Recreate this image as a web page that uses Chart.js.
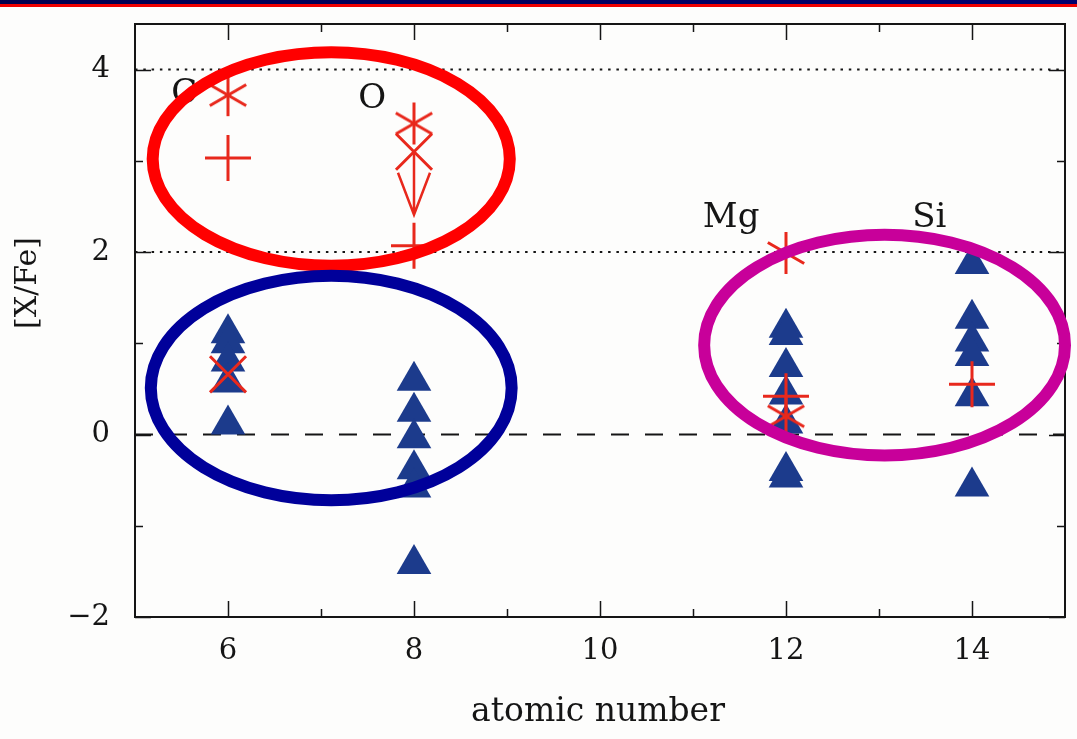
<!DOCTYPE html>
<html>
<head>
<meta charset="utf-8">
<title>[X/Fe] vs atomic number</title>
<script src="https://cdn.jsdelivr.net/npm/chart.js@4.4.1/dist/chart.umd.min.js"></script>
<style>
  html, body { margin: 0; padding: 0; background: #fdfdfc; }
  canvas { display: block; }
</style>
</head>
<body>
<canvas id="abund" width="1077" height="739"></canvas>
<script>
// abundance ratios per element (blue triangles = stars, red = other measurements)
const triC  = [1.11, 1.00, 0.80, 0.57, 0.11]
const triO  = [0.59, 0.25, -0.04, -0.38, -0.58, -1.42]
const triMg = [1.17, 1.09, 0.74, 0.44, 0.12, -0.40, -0.47]
const triSi = [1.87, 1.27, 1.02, 0.86, 0.42, -0.57]
const triZ  = [6, 8, 12, 14]

const plusZ    = [6, 8, 12, 14]
const plusVals = [3.03, 2.07, 0.42, 0.55]
const starZ    = [6, 8, 12, 12]
const starVals = [3.72, 3.41, 1.99, 0.20]
const xZ       = [6, 8]
const xVals    = [0.66, 3.10]
const xUpperLimit = [false, true]

const elementNames = ['C', 'O', 'Mg', 'Si']
const nameX = [5.53, 7.55, 11.41, 13.54]
const nameY = [3.63, 3.58, 2.27, 2.27]

const refLevels = [4, 2, 0]
const xTicks = [6, 8, 10, 12, 14]
const xMinor = [7, 9, 11, 13]
const yTicks = [-2, 0, 2, 4]
const yMinor = [-1, 1, 3]

// highlight rings, in data units
const ringCx = [7.11, 7.11, 13.06]
const ringCy = [3.02, 0.51, 0.98]
const ringRx = [1.92, 1.94, 1.94]
const ringRy = [1.17, 1.23, 1.21]
const ringColors = ['#ff0000', '#00009a', '#c8009a']

const RED = '#e8281c'
const NAVY = '#1c3b8c'
const INK = '#151515'
const SERIF = '"DejaVu Serif", serif'

function pts(z, vals) {
  return vals.map(v => ({ x: z, y: v }))
}
function pairPts(zs, vals) {
  return vals.map((v, i) => ({ x: zs[i], y: v }))
}

// six-armed asterisk used as a point style
function asterisk(arm, width, color) {
  const size = 48
  const c = document.createElement('canvas')
  c.width = c.height = size
  const g = c.getContext('2d')
  g.strokeStyle = color
  g.lineWidth = width
  const m = size / 2
  for (const deg of [90, 30, -30]) {
    const a = deg * Math.PI / 180
    const dx = Math.cos(a) * arm, dy = Math.sin(a) * arm
    g.beginPath()
    g.moveTo(m - dx, m - dy)
    g.lineTo(m + dx, m + dy)
    g.stroke()
  }
  return c
}

const refLines = refLevels.map(v => ({
  data: [{ x: 5, y: v }, { x: 15, y: v }],
  showLine: true,
  pointRadius: 0,
  borderColor: INK,
  borderWidth: 2,
  borderDash: v === 0 ? [18, 16] : [2.5, 5.8],
  order: 10
}))

const triangles = [triC, triO, triMg, triSi].map((vals, i) => ({
  data: pts(triZ[i], vals),
  pointStyle: 'triangle',
  pointRadius: 20,
  backgroundColor: NAVY,
  borderColor: NAVY,
  borderWidth: 0,
  order: 5
}))

const redMarks = [
  {
    data: pairPts(plusZ, plusVals),
    pointStyle: 'cross',
    pointRadius: 23,
    borderColor: RED,
    borderWidth: 3,
    order: 1
  },
  {
    data: pairPts(starZ, starVals),
    pointStyle: asterisk(21, 3, RED),
    pointRadius: 21,
    order: 1
  },
  {
    data: pairPts(xZ, xVals),
    pointStyle: 'crossRot',
    pointRadius: 25.5,
    borderColor: RED,
    borderWidth: 3,
    order: 1,
    upperLimit: xUpperLimit
  }
]

const tickFont = { family: SERIF, size: 29 }

const frame = {
  id: 'frame',
  beforeDraw(chart) {
    const { ctx, width } = chart
    ctx.save()
    ctx.fillStyle = '#fdfdfc'
    ctx.fillRect(0, 0, width, chart.height)
    // slide header strip
    const grad = ctx.createLinearGradient(0, 0, width, 0)
    grad.addColorStop(0, '#00004e')
    grad.addColorStop(1, '#00006e')
    ctx.fillStyle = grad
    ctx.fillRect(0, 0, width, 4)
    ctx.fillStyle = '#ee0000'
    ctx.fillRect(0, 4, width, 3)
    ctx.restore()
  },
  afterDatasetsDraw(chart) {
    const { ctx, chartArea: a, scales: { x, y } } = chart
    ctx.save()
    // arrows on upper limits
    chart.data.datasets.forEach((ds, di) => {
      if (!ds.upperLimit) return
      chart.getDatasetMeta(di).data.forEach((el, i) => {
        if (!ds.upperLimit[i]) return
        const tip = el.y + 63
        ctx.strokeStyle = RED
        ctx.lineWidth = 2.5
        ctx.beginPath()
        ctx.moveTo(el.x, el.y)
        ctx.lineTo(el.x, tip)
        ctx.moveTo(el.x - 16, tip - 42)
        ctx.lineTo(el.x, tip)
        ctx.lineTo(el.x + 16, tip - 42)
        ctx.stroke()
      })
    })

    // element names
    ctx.fillStyle = INK
    ctx.font = '34px ' + SERIF
    ctx.textAlign = 'center'
    ctx.textBaseline = 'alphabetic'
    elementNames.forEach((n, i) => {
      ctx.fillText(n, x.getPixelForValue(nameX[i]), y.getPixelForValue(nameY[i]))
    })

    // box and inward ticks
    ctx.strokeStyle = INK
    ctx.lineWidth = 2
    ctx.strokeRect(a.left, a.top, a.right - a.left, a.bottom - a.top)
    ctx.lineWidth = 1.5
    ctx.beginPath()
    const xt = (v, len) => {
      const px = Math.round(x.getPixelForValue(v)) + 0.5
      ctx.moveTo(px, a.bottom); ctx.lineTo(px, a.bottom - len)
      ctx.moveTo(px, a.top); ctx.lineTo(px, a.top + len)
    }
    const yt = (v, len) => {
      const py = Math.round(y.getPixelForValue(v)) + 0.5
      ctx.moveTo(a.left, py); ctx.lineTo(a.left + len, py)
      ctx.moveTo(a.right, py); ctx.lineTo(a.right - len, py)
    }
    xTicks.forEach(v => xt(v, 16))
    xMinor.forEach(v => xt(v, 8))
    yTicks.forEach(v => yt(v, 16))
    yMinor.forEach(v => yt(v, 8))
    ctx.stroke()
    ctx.restore()
  },
  afterDraw(chart) {
    const { ctx, scales: { x, y } } = chart
    ctx.save()
    // axis titles
    ctx.fillStyle = INK
    ctx.font = '33px ' + SERIF
    ctx.textAlign = 'center'
    ctx.textBaseline = 'middle'
    ctx.fillText('atomic number', 598, 712)
    ctx.translate(28, 283)
    ctx.rotate(-Math.PI / 2)
    ctx.font = '30px ' + SERIF
    ctx.fillText('[X/Fe]', 0, 0)
    ctx.restore()

    // highlight rings on top of everything
    ctx.save()
    ctx.lineWidth = 12
    ringCx.forEach((cx, i) => {
      const px = x.getPixelForValue(cx)
      const py = y.getPixelForValue(ringCy[i])
      const rx = Math.abs(x.getPixelForValue(cx + ringRx[i]) - px)
      const ry = Math.abs(y.getPixelForValue(ringCy[i] + ringRy[i]) - py)
      ctx.strokeStyle = ringColors[i]
      ctx.beginPath()
      ctx.ellipse(px, py, rx, ry, 0, 0, Math.PI * 2)
      ctx.stroke()
    })
    ctx.restore()
  }
}

// the box is fixed, so drop the half-label padding the scales ask for
function noEdgePadding(s) {
  s.paddingTop = 0
  s.paddingBottom = 0
  s.paddingLeft = 0
  s.paddingRight = 0
}

new Chart(document.getElementById('abund'), {
  type: 'scatter',
  data: { datasets: [...redMarks, ...triangles, ...refLines] },
  options: {
    responsive: false,
    animation: false,
    events: [],
    layout: { autoPadding: false, padding: { left: 0, right: 12, top: 24, bottom: 0 } },
    plugins: { legend: { display: false }, tooltip: { enabled: false } },
    scales: {
      x: {
        type: 'linear',
        min: 5,
        max: 15,
        grid: { display: false, drawTicks: false },
        border: { display: false },
        ticks: { font: tickFont, color: INK, padding: 17, maxRotation: 0 },
        afterBuildTicks: s => { s.ticks = xTicks.map(v => ({ value: v })) },
        afterFit: s => { s.height = 122; noEdgePadding(s) }
      },
      y: {
        type: 'linear',
        min: -2,
        max: 4.5,
        grid: { display: false, drawTicks: false },
        border: { display: false },
        ticks: {
          font: tickFont,
          color: INK,
          padding: 25,
          callback: v => String(v).replace('-', '\u2212')
        },
        afterBuildTicks: s => { s.ticks = yTicks.map(v => ({ value: v })) },
        afterFit: s => { s.width = 135; noEdgePadding(s) }
      }
    }
  },
  plugins: [frame]
})
</script>
</body>
</html>
